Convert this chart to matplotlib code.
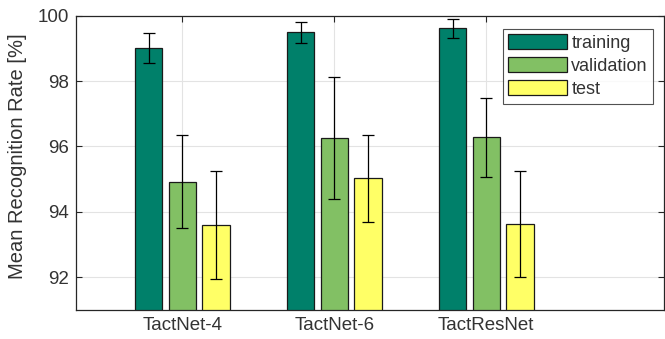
import matplotlib
matplotlib.use("Agg")
import matplotlib.pyplot as plt
import numpy as np

plt.rcParams['font.family'] = ['Liberation Sans', 'DejaVu Sans']

models = ["TactNet-4", "TactNet-6", "TactResNet"]
series = ["training", "validation", "test"]
training = [99.01, 99.49, 99.61]
training_err = [0.45, 0.32, 0.29]
validation = [94.92, 96.25, 96.28]
validation_err = [1.42, 1.86, 1.21]
test = [93.59, 95.02, 93.62]
test_err = [1.65, 1.33, 1.62]
yticks = [92, 94, 96, 98, 100]

colors = ["#00806a", "#82c064", "#ffff66"]
means = [training, validation, test]
errs = [training_err, validation_err, test_err]
text_color = "#333333"

fig = plt.figure(figsize=(6.65, 3.39), dpi=100)
ax = fig.add_axes([0.1143, 0.0864, 0.8842, 0.8673])

x = np.arange(1, len(models) + 1)
offset = 0.222
width = 0.18
for i, (m, e, c, lab) in enumerate(zip(means, errs, colors, series)):
    pos = x + (i - 1) * offset
    ax.bar(pos, m, width, color=c, edgecolor="#1a1a1a", linewidth=0.9,
           label=lab, zorder=2, bottom=0)
    ax.errorbar(pos, m, yerr=e, fmt="none", ecolor="black", elinewidth=0.9,
                capsize=4.3, capthick=0.9, zorder=3)

ax.set_xlim(0.3, 4.17)
ax.set_ylim(91, 100)
ax.set_yticks(yticks)
ax.set_xticks(x)
ax.set_xticklabels(models)
ax.set_ylabel("Mean Recognition Rate [%]", fontsize=14.5, color=text_color)
ax.yaxis.set_label_coords(-0.084, 0.523)
ax.tick_params(direction="in", top=True, right=True, labelsize=13.5,
               colors="#262626", labelcolor=text_color, length=4, width=0.8,
               pad=5)
ax.grid(True, color="#e3e3e3", linewidth=0.8, zorder=0)
ax.set_axisbelow(True)
for s in ax.spines.values():
    s.set_color("#262626")
    s.set_linewidth(0.9)

leg = ax.legend(loc="upper right", bbox_to_anchor=(0.9818, 0.9558), fontsize=13,
                frameon=True, fancybox=False, edgecolor="#262626",
                handlelength=3.27, handleheight=0.9, handletextpad=0.22,
                labelspacing=0.3, borderpad=0.3, borderaxespad=0.0)
leg.get_frame().set_linewidth(0.8)
for t in leg.get_texts():
    t.set_color(text_color)

fig.savefig("out.png", dpi=100)
